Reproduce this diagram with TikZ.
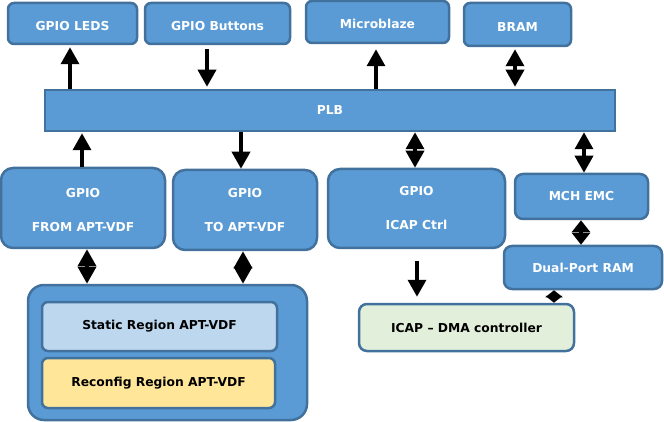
\documentclass[tikz,border=0pt]{standalone}
\usepackage{fontspec}
\setmainfont{DejaVu Sans}
\usetikzlibrary{arrows.meta}
\definecolor{bfill}{HTML}{5B9BD5}
\definecolor{bdraw}{HTML}{41719C}
\definecolor{sfill}{HTML}{BDD7EE}
\definecolor{rfill}{HTML}{FFE699}
\definecolor{gfill}{HTML}{E2EFDA}
\tikzset{
  box/.style={draw=bdraw, fill=bfill, line width=2.5pt, rounded corners=6pt, text=white,
    font=\fontsize{12.3pt}{34pt}\selectfont\bfseries, align=center, inner sep=0pt},
  topbox/.style={box, text height=14pt, text depth=0pt},
  bigbox/.style={box, rounded corners=12pt},
  lightbox/.style={box, text=black},
  arr/.style={line width=3.5pt, -{Triangle[width=18pt,length=17pt]}},
  darr/.style={line width=3.5pt, {Triangle[width=18pt,length=17pt]}-{Triangle[width=18pt,length=17pt]}},
  darrm/.style={line width=3.5pt, {Triangle[width=18pt,length=12pt]}-{Triangle[width=18pt,length=12pt]}},
  darrs/.style={line width=3.5pt, {Triangle[width=17pt,length=7pt]}-{Triangle[width=17pt,length=7pt]}},
}
\begin{document}
\begin{tikzpicture}[x=1pt,y=-1pt]
\useasboundingbox (0,0) rectangle (664,422);
% top row
\node[topbox, minimum width=129, minimum height=41] (leds) at (72.5,23.5) {GPIO LEDS};
\node[topbox, minimum width=145, minimum height=41] (btn) at (217.5,23.5) {GPIO Buttons};
\node[topbox, minimum width=143, minimum height=42] (mb) at (377.5,22) {Microblaze};
\node[topbox, minimum width=107, minimum height=43] (bram) at (517.5,24.5) {BRAM};
% bus
\node[box, rounded corners=0pt, minimum width=570, minimum height=41] (plb) at (330,110.5) {PLB};
% second row
\node[bigbox, minimum width=164, minimum height=80] (from) at (83,208) {\raisebox{-2pt}{\begin{tabular}{@{}c@{}}GPIO\\FROM APT-VDF\end{tabular}}};
\node[bigbox, minimum width=144, minimum height=80] (to) at (245,210) {GPIO\\TO APT-VDF};
\node[bigbox, minimum width=177, minimum height=79] (ictrl) at (416.5,208.5) {GPIO\\ICAP Ctrl};
\node[box, rounded corners=8pt, minimum width=133, minimum height=45] (mch) at (581.5,196.5) {MCH EMC};
\node[box, rounded corners=8pt, minimum width=158, minimum height=43] (dp) at (583,267.5) {Dual-Port RAM};
\node[lightbox, fill=gfill, rounded corners=8pt, minimum width=215, minimum height=47] (dma) at (466.5,327.5) {ICAP -- DMA controller};
% container
\node[box, rounded corners=16pt, minimum width=279, minimum height=135] (apt) at (167.5,352.5) {};
\node[lightbox, fill=sfill, minimum width=235, minimum height=49] (stat) at (159.5,326.5) {Static Region APT-VDF};
\node[lightbox, fill=rfill, minimum width=233, minimum height=50] (rec) at (158.5,383) {Reconfig Region APT-VDF};
% x positions of connectors
\coordinate (xa) at (70,0);
\coordinate (xb) at (207,0);
\coordinate (xc) at (376,0);
\coordinate (xd) at (515,0);
\coordinate (xe) at (82,0);
\coordinate (xf) at (241,0);
\coordinate (xg) at (415,0);
\coordinate (xh) at (584,0);
\coordinate (xi) at (87,0);
\coordinate (xj) at (243,0);
\coordinate (xk) at (417,0);
\coordinate (xl) at (581,0);
\coordinate (xm) at (554,0);
% connectors
\draw[arr, shorten >=2pt] (plb.north -| xa) -- (leds.south -| xa);
\draw[arr, shorten <=4pt, shorten >=2pt] (btn.south -| xb) -- (plb.north -| xb);
\draw[arr, shorten >=5pt] (plb.north -| xc) -- (mb.south -| xc);
\draw[darr, shorten <=2pt, shorten >=2pt] (plb.north -| xd) -- (bram.south -| xd);
\draw[arr, shorten >=1pt] (from.north -| xe) -- (plb.south -| xe);
\draw[arr] (plb.south -| xf) -- (to.north -| xf);
\draw[darr] (plb.south -| xg) -- (ictrl.north -| xg);
\draw[darr] (plb.south -| xh) -- (mch.north -| xh);
\draw[darr] (from.south -| xi) -- (apt.north -| xi);
\draw[darr] (to.south -| xj) -- (apt.north -| xj);
\draw[arr, shorten <=12pt, shorten >=6pt] (ictrl.south -| xk) -- (dma.north -| xk);
\draw[darrm] (mch.south -| xl) -- (dp.north -| xl);
\draw[darrs] (dp.south -| xm) -- (dma.north -| xm);
\end{tikzpicture}
\end{document}
